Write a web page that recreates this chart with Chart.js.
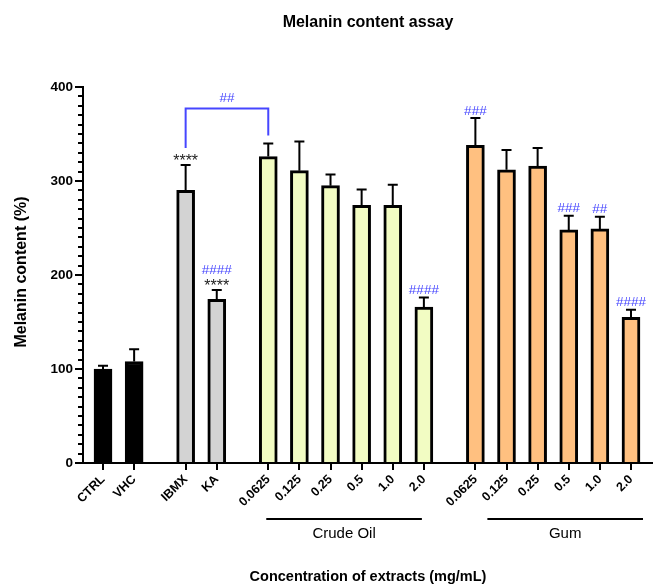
<!DOCTYPE html>
<html>
<head>
<meta charset="utf-8">
<script src="https://cdn.jsdelivr.net/npm/chart.js@4.4.1/dist/chart.umd.min.js"></script>
<style>
  html, body { margin: 0; padding: 0; background: #fff; }
  canvas { display: block; }
</style>
</head>
<body>
<canvas id="melaninChart" width="653" height="584"></canvas>
<script>
// --- DATOS ---
const categories = ['CTRL', 'VHC', 'IBMX', 'KA',
  '0.0625', '0.125', '0.25', '0.5', '1.0', '2.0',
  '0.0625', '0.125', '0.25', '0.5', '1.0', '2.0'];
const groupOf = [0, 0, 1, 1, 2, 2, 2, 2, 2, 2, 3, 3, 3, 3, 3, 3];
const meanValues = [100, 108, 290, 174, 326, 311, 295, 274, 274, 166, 338, 312, 316, 248, 249, 155];
const semValues = [3.5, 13, 27, 10, 14, 31, 12, 17, 22, 10, 29, 21, 19, 15, 13, 8];
const starMarks = ['', '', '****', '****', '', '', '', '', '', '', '', '', '', '', '', ''];
const hashMarks = ['', '', '', '####', '', '', '', '', '', '####', '###', '', '', '###', '##', '####'];
const groupNames = ['', '', 'Crude Oil', 'Gum'];
const yTickValues = [0, 100, 200, 300, 400];
const bracketPair = [2, 4];
const bracketLevel = 377;
const bracketLabel = '##';

// --- ESTILO ---
const FONT = '"Liberation Sans", Arial, sans-serif';
const GROUP_GAP = 0.655;
const groupColors = ['#000000', '#d3d3d3', '#f2fcc3', '#ffc080'];
const groupLineShift = [0, 0, -2, 12];
const HASH_BLUE = '#4646ff';

const xPos = i => i + groupOf[i] * GROUP_GAP;

const decorPlugin = {
  id: 'decor',
  afterDatasetsDraw(chart) {
    const c = chart.ctx;
    const ys = chart.scales.y;
    const area = chart.chartArea;
    const bars = chart.getDatasetMeta(0).data;
    c.save();

    // barras de error (solo hacia arriba)
    const annTop = [];
    bars.forEach((bar, i) => {
      const yTop = ys.getPixelForValue(meanValues[i]);
      const yCap = ys.getPixelForValue(meanValues[i] + semValues[i]);
      c.strokeStyle = '#000';
      c.lineWidth = 2;
      c.beginPath();
      c.moveTo(bar.x, yTop);
      c.lineTo(bar.x, yCap);
      c.moveTo(bar.x - 5, yCap);
      c.lineTo(bar.x + 5, yCap);
      c.stroke();

      // asteriscos y almohadillas
      let center = yCap - 8;
      let top = null;
      c.textAlign = 'center';
      c.textBaseline = 'alphabetic';
      if (starMarks[i]) {
        c.fillStyle = '#222';
        c.font = '16px ' + FONT;
        c.fillText(starMarks[i], bar.x, center + 9);
        top = center;
        center -= 12.5;
      }
      if (hashMarks[i]) {
        c.fillStyle = HASH_BLUE;
        c.font = '13.5px ' + FONT;
        c.fillText(hashMarks[i], bar.x, center + 4.5);
        top = center;
      }
      annTop[i] = top === null ? yCap : top - 3;
    });

    // corchete de comparación
    const [a, b] = bracketPair;
    const xa = bars[a].x, xb = bars[b].x;
    const yl = ys.getPixelForValue(bracketLevel);
    c.strokeStyle = HASH_BLUE;
    c.lineWidth = 2;
    c.beginPath();
    c.moveTo(xa, annTop[a] - 6);
    c.lineTo(xa, yl);
    c.lineTo(xb, yl);
    c.lineTo(xb, annTop[b] - 8);
    c.stroke();
    c.fillStyle = HASH_BLUE;
    c.font = '13.5px ' + FONT;
    c.textAlign = 'center';
    c.fillText(bracketLabel, (xa + xb) / 2, yl - 11 + 4.5);

    // ticks mayores del eje Y
    c.strokeStyle = '#000';
    c.lineWidth = 2;
    yTickValues.forEach(v => {
      const y = ys.getPixelForValue(v);
      c.beginPath();
      c.moveTo(area.left, y);
      c.lineTo(area.left - 8, y);
      c.stroke();
    });

    // líneas de grupo
    groupNames.forEach((name, g) => {
      if (!name) return;
      const idx = groupOf.map((gg, i) => gg === g ? i : -1).filter(i => i >= 0);
      const x1 = bars[idx[0]].x + groupLineShift[g];
      const x2 = bars[idx[idx.length - 1]].x + groupLineShift[g];
      const y = area.bottom + 56;
      c.strokeStyle = '#000';
      c.lineWidth = 2;
      c.beginPath();
      c.moveTo(x1, y);
      c.lineTo(x2, y);
      c.stroke();
      c.fillStyle = '#000';
      c.font = '15px ' + FONT;
      c.textAlign = 'center';
      c.fillText(name, (x1 + x2) / 2, y + 19);
    });

    // títulos
    c.fillStyle = '#000';
    c.textAlign = 'center';
    c.font = 'bold 16px ' + FONT;
    c.fillText('Melanin content assay', 368, 27);
    c.font = 'bold 14.5px ' + FONT;
    c.fillText('Concentration of extracts (mg/mL)', 368, 581);
    c.translate(26, 272);
    c.rotate(-Math.PI / 2);
    c.font = 'bold 16px ' + FONT;
    c.fillText('Melanin content (%)', 0, 0);
    c.restore();
  }
};

const chartCtx = document.getElementById('melaninChart').getContext('2d');

new Chart(chartCtx, {
  type: 'bar',
  data: {
    datasets: [{
      data: meanValues.map((v, i) => ({ x: xPos(i), y: v })),
      backgroundColor: meanValues.map((v, i) => groupColors[groupOf[i]]),
      borderColor: '#000',
      borderWidth: 3,
      borderSkipped: 'start',
      barThickness: 18
    }]
  },
  options: {
    responsive: false,
    animation: false,
    layout: { padding: { top: 87, right: 1, left: 0, bottom: 0 } },
    plugins: {
      legend: { display: false },
      tooltip: { enabled: false }
    },
    scales: {
      x: {
        type: 'linear',
        offset: false,
        min: -0.643,
        max: 17.64,
        grid: { offset: false, drawOnChartArea: false, drawTicks: true, tickLength: 7, color: '#000', lineWidth: 2 },
        border: { display: true, color: '#000', width: 2 },
        afterBuildTicks: s => { s.ticks = categories.map((c, i) => ({ value: xPos(i) })); },
        afterFit: s => { s.height = 121; },
        ticks: {
          autoSkip: false,
          maxRotation: 45,
          minRotation: 45,
          padding: 2,
          color: '#000',
          font: { family: FONT, size: 12.5, weight: 'bold' },
          callback: (v, i) => categories[i]
        }
      },
      y: {
        min: 0,
        max: 400,
        grid: { drawOnChartArea: false, drawTicks: true, tickLength: 5, color: '#000', lineWidth: 2 },
        border: { display: true, color: '#000', width: 2 },
        afterFit: s => { s.width = 83; },
        ticks: {
          stepSize: 10,
          autoSkip: false,
          padding: 5,
          color: '#000',
          font: { family: FONT, size: 13.5, weight: 'bold' },
          callback: v => yTickValues.includes(v) ? v : ''
        }
      }
    }
  },
  plugins: [decorPlugin]
});
</script>
</body>
</html>
